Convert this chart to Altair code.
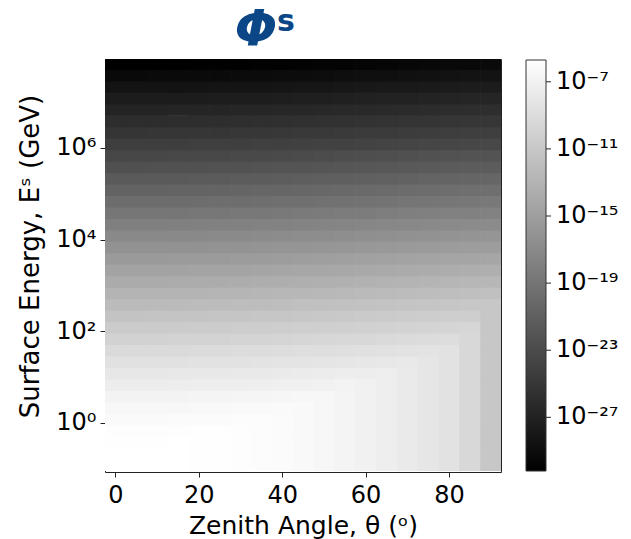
import altair as alt
import pandas as pd

# Zenith-angle bin centres (degrees)
theta = [0, 5, 10, 15, 20, 25, 30, 35, 40, 45, 50, 55, 60, 65, 70, 75, 80, 85, 90]

# log10 surface-energy bin centres (GeV), bottom row first
log_energy = [-0.925 + 0.25 * i for i in range(36)]

# log10 of surface flux, one row per energy bin (same order as log_energy),
# one column per zenith angle (same order as theta)
log_flux = [
    [-5.7, -5.7, -5.7, -5.7, -5.8, -5.8, -5.9, -6.0, -6.1, -6.3, -6.5, -6.8, -7.0, -7.3, -7.7, -8.1, -8.5, -9.4, -11.1],
    [-5.7, -5.7, -5.7, -5.7, -5.8, -5.8, -5.9, -6.0, -6.1, -6.3, -6.5, -6.8, -7.0, -7.3, -7.7, -8.1, -8.5, -9.4, -11.1],
    [-5.8, -5.8, -5.8, -5.7, -5.8, -5.8, -5.9, -6.0, -6.1, -6.3, -6.5, -6.8, -7.0, -7.3, -7.7, -8.1, -8.5, -9.4, -11.1],
    [-5.9, -5.9, -5.9, -5.9, -5.8, -5.8, -5.9, -6.0, -6.1, -6.3, -6.5, -6.8, -7.0, -7.3, -7.7, -8.1, -8.5, -9.4, -11.1],
    [-6.2, -6.2, -6.2, -6.1, -6.1, -6.1, -6.0, -6.0, -6.1, -6.3, -6.5, -6.8, -7.0, -7.3, -7.7, -8.1, -8.5, -9.4, -11.1],
    [-6.5, -6.5, -6.5, -6.5, -6.4, -6.4, -6.3, -6.3, -6.2, -6.3, -6.5, -6.8, -7.0, -7.3, -7.7, -8.1, -8.5, -9.4, -11.1],
    [-6.9, -6.9, -6.9, -6.9, -6.8, -6.8, -6.7, -6.7, -6.6, -6.5, -6.5, -6.8, -7.0, -7.3, -7.7, -8.1, -8.5, -9.4, -11.1],
    [-7.4, -7.4, -7.4, -7.4, -7.3, -7.3, -7.3, -7.2, -7.1, -7.1, -7.0, -6.9, -7.0, -7.3, -7.7, -8.1, -8.5, -9.4, -11.1],
    [-8.0, -8.0, -8.0, -7.9, -7.9, -7.9, -7.8, -7.8, -7.7, -7.6, -7.5, -7.4, -7.4, -7.3, -7.7, -8.1, -8.5, -9.4, -11.1],
    [-8.6, -8.6, -8.6, -8.6, -8.5, -8.5, -8.5, -8.4, -8.3, -8.3, -8.2, -8.1, -8.0, -7.9, -7.8, -8.1, -8.5, -9.4, -11.1],
    [-9.3, -9.3, -9.3, -9.3, -9.2, -9.2, -9.1, -9.1, -9.0, -8.9, -8.9, -8.8, -8.7, -8.6, -8.5, -8.4, -8.5, -9.4, -11.1],
    [-10.0, -10.0, -10.0, -9.9, -9.9, -9.9, -9.8, -9.8, -9.7, -9.6, -9.5, -9.4, -9.4, -9.3, -9.2, -9.1, -9.0, -9.4, -11.1],
    [-10.7, -10.7, -10.7, -10.7, -10.6, -10.6, -10.5, -10.5, -10.4, -10.3, -10.3, -10.2, -10.1, -10.0, -9.9, -9.8, -9.7, -9.6, -11.1],
    [-11.5, -11.5, -11.4, -11.4, -11.4, -11.3, -11.3, -11.2, -11.2, -11.1, -11.0, -10.9, -10.8, -10.7, -10.6, -10.5, -10.4, -10.4, -11.1],
    [-12.2, -12.2, -12.2, -12.2, -12.1, -12.1, -12.0, -12.0, -11.9, -11.8, -11.8, -11.7, -11.6, -11.5, -11.4, -11.3, -11.2, -11.1, -11.1],
    [-12.95, -12.95, -12.93, -12.90, -12.87, -12.83, -12.78, -12.72, -12.65, -12.58, -12.50, -12.41, -12.32, -12.22, -12.12, -12.02, -11.93, -11.85, -11.80],
    [-13.75, -13.75, -13.73, -13.70, -13.67, -13.63, -13.58, -13.52, -13.45, -13.38, -13.30, -13.21, -13.12, -13.02, -12.92, -12.82, -12.73, -12.65, -12.60],
    [-14.57, -14.57, -14.55, -14.52, -14.49, -14.45, -14.40, -14.34, -14.27, -14.20, -14.12, -14.03, -13.94, -13.84, -13.74, -13.64, -13.55, -13.47, -13.42],
    [-15.40, -15.40, -15.38, -15.35, -15.32, -15.28, -15.23, -15.17, -15.10, -15.03, -14.95, -14.86, -14.77, -14.67, -14.57, -14.47, -14.38, -14.30, -14.25],
    [-16.22, -16.22, -16.20, -16.17, -16.14, -16.10, -16.05, -15.99, -15.92, -15.85, -15.77, -15.68, -15.59, -15.49, -15.39, -15.29, -15.20, -15.12, -15.07],
    [-17.07, -17.07, -17.05, -17.02, -16.99, -16.95, -16.90, -16.84, -16.77, -16.70, -16.62, -16.53, -16.44, -16.34, -16.24, -16.14, -16.05, -15.97, -15.92],
    [-17.97, -17.97, -17.95, -17.92, -17.89, -17.85, -17.80, -17.74, -17.67, -17.60, -17.52, -17.43, -17.34, -17.24, -17.14, -17.04, -16.95, -16.87, -16.82],
    [-18.87, -18.87, -18.85, -18.82, -18.79, -18.75, -18.70, -18.64, -18.57, -18.50, -18.42, -18.33, -18.24, -18.14, -18.04, -17.94, -17.85, -17.77, -17.72],
    [-19.77, -19.77, -19.75, -19.72, -19.69, -19.65, -19.60, -19.54, -19.47, -19.40, -19.32, -19.23, -19.14, -19.04, -18.94, -18.84, -18.75, -18.67, -18.62],
    [-20.67, -20.67, -20.65, -20.62, -20.59, -20.55, -20.50, -20.44, -20.37, -20.30, -20.22, -20.13, -20.04, -19.94, -19.84, -19.74, -19.65, -19.57, -19.52],
    [-21.57, -21.57, -21.55, -21.52, -21.49, -21.45, -21.40, -21.34, -21.27, -21.20, -21.12, -21.03, -20.94, -20.84, -20.74, -20.64, -20.55, -20.47, -20.42],
    [-22.47, -22.47, -22.45, -22.42, -22.39, -22.35, -22.30, -22.24, -22.17, -22.10, -22.02, -21.93, -21.84, -21.74, -21.64, -21.54, -21.45, -21.37, -21.32],
    [-23.37, -23.37, -23.35, -23.32, -23.29, -23.25, -23.20, -23.14, -23.07, -23.00, -22.92, -22.83, -22.74, -22.64, -22.54, -22.44, -22.35, -22.27, -22.22],
    [-24.25, -24.25, -24.23, -24.21, -24.19, -24.15, -24.11, -24.07, -24.01, -23.95, -23.89, -23.82, -23.75, -23.67, -23.59, -23.51, -23.43, -23.37, -23.33],
    [-25.07, -25.07, -25.05, -25.03, -25.01, -24.97, -24.93, -24.89, -24.83, -24.77, -24.71, -24.64, -24.57, -24.49, -24.41, -24.33, -24.25, -24.19, -24.15],
    [-25.90, -25.90, -25.88, -25.86, -25.84, -25.80, -25.76, -25.72, -25.66, -25.60, -25.54, -25.47, -25.40, -25.32, -25.24, -25.16, -25.08, -25.02, -24.98],
    [-26.72, -26.72, -26.70, -26.68, -26.66, -26.62, -26.58, -26.54, -26.48, -26.42, -26.36, -26.29, -26.22, -26.14, -26.06, -25.98, -25.90, -25.84, -25.80],
    [-27.55, -27.55, -27.53, -27.51, -27.49, -27.45, -27.41, -27.37, -27.31, -27.25, -27.19, -27.12, -27.05, -26.97, -26.89, -26.81, -26.73, -26.67, -26.63],
    [-28.42, -28.42, -28.40, -28.38, -28.36, -28.32, -28.28, -28.24, -28.18, -28.12, -28.06, -27.99, -27.92, -27.84, -27.76, -27.68, -27.60, -27.54, -27.50],
    [-29.30, -29.30, -29.28, -29.26, -29.24, -29.20, -29.16, -29.12, -29.06, -29.00, -28.94, -28.87, -28.80, -28.72, -28.64, -28.56, -28.48, -28.42, -28.38],
    [-30.20, -30.20, -30.18, -30.16, -30.14, -30.10, -30.06, -30.02, -29.96, -29.90, -29.84, -29.77, -29.70, -29.62, -29.54, -29.46, -29.38, -29.32, -29.28],
]

x_ticks = [0, 20, 40, 60, 80]
y_ticks = [0, 2, 4, 6]
cbar_ticks = [-27, -23, -19, -15, -11, -7]

THETA_HALF = 2.5
LOGE_HALF = 0.125

rows = []
for i, le in enumerate(log_energy):
    for j, th in enumerate(theta):
        rows.append({
            "x0": th - THETA_HALF, "x1": th + THETA_HALF,
            "y0": le - LOGE_HALF, "y1": le + LOGE_HALF,
            "lf": log_flux[i][j],
        })
df = pd.DataFrame(rows)

FONT = "DejaVu Sans"
CMIN, CMAX = -30.2, -5.7
cscale = alt.Scale(domain=[CMIN, CMAX], range=["#000000", "#ffffff"], interpolate="rgb")

y_label_expr = ("datum.value == 0 ? '10⁰' : datum.value == 2 ? '10²' : "
                "datum.value == 4 ? '10⁴' : '10⁶'")
c_label_expr = ("datum.value == -7 ? '10⁻⁷' : datum.value == -11 ? '10⁻¹¹' : "
                "datum.value == -15 ? '10⁻¹⁵' : datum.value == -19 ? '10⁻¹⁹' : "
                "datum.value == -23 ? '10⁻²³' : '10⁻²⁷'")

# slight overlap of neighbouring cells hides anti-aliasing seams
heat = alt.Chart(df).mark_rect(
    stroke=None, x2Offset=0.7, y2Offset=-0.7, clip=True
).encode(
    x=alt.X("x0:Q", scale=alt.Scale(domain=[-2.5, 92.5], nice=False, zero=False),
            axis=alt.Axis(values=x_ticks, title="Zenith Angle, θ (ᵒ)",
                          titleX=198, titleY=53, titleBaseline="middle",
                          titleFontSize=25, labelPadding=6)),
    x2="x1:Q",
    y=alt.Y("y0:Q", scale=alt.Scale(domain=[-1.07, 7.94], nice=False, zero=False),
            axis=alt.Axis(values=y_ticks, labelExpr=y_label_expr,
                          title="Surface Energy, Eˢ (GeV)",
                          titleX=-75, titleY=197, titleAngle=-90,
                          titleAlign="center", titleBaseline="middle",
                          titleFontSize=26, labelPadding=4)),
    y2="y1:Q",
    color=alt.Color("lf:Q", scale=cscale,
                    legend=alt.Legend(orient="none", legendX=421, legendY=1,
                                      direction="vertical", gradientLength=411,
                                      gradientThickness=20, values=cbar_ticks,
                                      labelExpr=c_label_expr, title=None,
                                      labelFontSize=24, labelFont=FONT,
                                      labelColor="#000000", labelOffset=10,
                                      labelOverlap=False,
                                      gradientStrokeColor="#333333",
                                      gradientStrokeWidth=1)),
)

# small tick marks on the right edge of the colour bar
cbar_tick_layer = alt.Chart(pd.DataFrame({"v": cbar_ticks})).mark_rule(
    color="#222222", strokeWidth=1
).encode(
    y=alt.Y("v:Q", scale=alt.Scale(domain=[CMIN - 24.5 / 411, CMAX + 24.5 / 411],
                                   nice=False, zero=False),
            axis=None),
    x=alt.value(441), x2=alt.value(446),
)

phi = alt.Chart(pd.DataFrame({"t": ["Φ"]})).mark_text(
    font=FONT, fontSize=50, fontWeight="bold", fontStyle="italic",
    color="#0b4687", align="center", baseline="middle"
).encode(x=alt.value(151), y=alt.value(-29), text="t:N")

sup = alt.Chart(pd.DataFrame({"t": ["s"]})).mark_text(
    font=FONT, fontSize=30, fontWeight="bold",
    color="#0b4687", align="center", baseline="middle"
).encode(x=alt.value(181), y=alt.value(-37), text="t:N")

chart = alt.layer(heat, cbar_tick_layer, phi, sup).resolve_scale(
    y="independent"
).properties(
    width=396, height=413,
    autosize=alt.AutoSizeParams(type="none"),
    padding={"left": 105, "top": 59, "right": 130, "bottom": 67},
).configure_view(
    stroke="#222222", strokeWidth=1
).configure_axis(
    grid=False, domain=False, ticks=True, tickSize=5, tickColor="#222222",
    tickWidth=1, labelFont=FONT, labelFontSize=24, labelColor="#000000",
    titleFont=FONT, titleFontSize=24, titleFontWeight="normal", titleColor="#000000",
)

chart.save("out.html", embed_options={"renderer": "svg", "actions": False})
